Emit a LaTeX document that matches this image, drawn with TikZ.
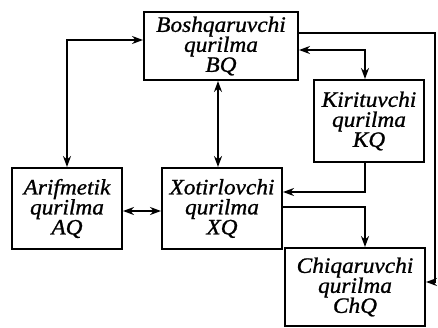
\documentclass[tikz,border=0pt]{standalone}
\usepackage{fontspec}
\setmainfont{Liberation Serif}[FakeStretch=1.06, FakeBold=1]
\usetikzlibrary{arrows.meta}
\tikzset{
  blk/.style={draw, line width=2pt, inner sep=0pt, align=center,
    font=\fontsize{22}{20}\selectfont\itshape},
  con/.style={line width=2.8pt},
  thin con/.style={line width=1.6pt},
  tip/.tip={Stealth[length=11pt,width=8pt]}
}
\begin{document}
\begin{tikzpicture}[x=1pt,y=-1pt]
\useasboundingbox (0,0) rectangle (438,327);
\node[blk, minimum width=154pt, minimum height=68pt] (BQ) at (221,46) {Boshqaruvchi\\qurilma\\BQ};
\node[blk, minimum width=110pt, minimum height=82pt] (KQ) at (369,121) {Kirituvchi\\qurilma\\KQ};
\node[blk, minimum width=110pt, minimum height=81pt] (AQ) at (67,208.5) {Arifmetik\\qurilma\\AQ};
\node[blk, minimum width=120pt, minimum height=81pt] (XQ) at (222,208.5) {Xotirlovchi\\qurilma\\XQ};
\node[blk, minimum width=140pt, minimum height=78pt] (ChQ) at (355,287) {Chiqaruvchi\\qurilma\\ChQ};
\coordinate (c1) at (67,40);
\coordinate (v2) at (218,120);
\coordinate (c3) at (365,50);
\coordinate (c4) at (435,33);
\coordinate (c5) at (435,282);
\coordinate (c6) at (365,192);
\coordinate (c7) at (365,207);
\coordinate (c8) at (140,211);
\draw[con, {tip}-{tip}] (AQ.north) -- (c1) -- (c1 -| BQ.west);
\draw[con, {tip}-{tip}] (v2 |- BQ.south) -- (v2 |- XQ.north);
\draw[con, {tip}-{tip}] (c3 -| BQ.east) -- (c3) -- (c3 |- KQ.north);
\draw[thin con, -{tip}] (c4 -| BQ.east) -- (c4) -- (c5) -- (c5 -| ChQ.east);
\draw[con, -{tip}] (c6 |- KQ.south) -- (c6) -- (c6 -| XQ.east);
\draw[con, -{tip}] (c7 -| XQ.east) -- (c7) -- (c7 |- ChQ.north);
\draw[con, {tip}-{tip}] (c8 -| AQ.east) -- (c8 -| XQ.west);
\end{tikzpicture}
\end{document}
